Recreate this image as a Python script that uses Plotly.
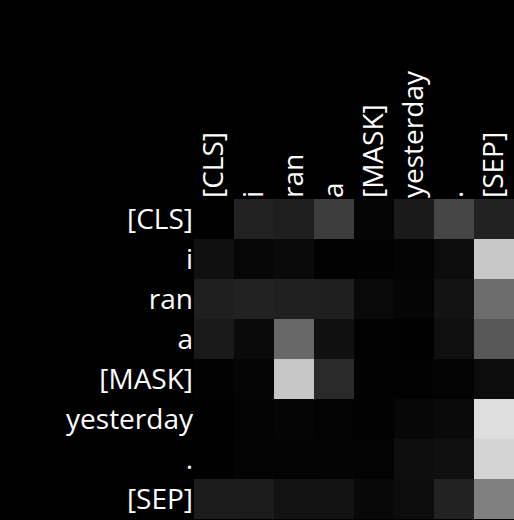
import plotly.graph_objects as go

tokens = ["[CLS]", "i", "ran", "a", "[MASK]", "yesterday", ".", "[SEP]"]

# attention weights (rows = query token, columns = key token)
row_cls = [0.000, 0.133, 0.118, 0.235, 0.020, 0.102, 0.271, 0.133]
row_i = [0.063, 0.024, 0.039, 0.008, 0.008, 0.016, 0.047, 0.784]
row_ran = [0.122, 0.133, 0.125, 0.122, 0.035, 0.020, 0.075, 0.424]
row_a = [0.102, 0.039, 0.408, 0.063, 0.008, 0.004, 0.059, 0.345]
row_mask = [0.008, 0.020, 0.776, 0.165, 0.008, 0.008, 0.012, 0.047]
row_yesterday = [0.004, 0.012, 0.020, 0.012, 0.008, 0.027, 0.039, 0.871]
row_dot = [0.004, 0.016, 0.012, 0.016, 0.012, 0.055, 0.063, 0.831]
row_sep = [0.110, 0.106, 0.071, 0.071, 0.031, 0.047, 0.133, 0.502]

z = [row_cls, row_i, row_ran, row_a, row_mask, row_yesterday, row_dot, row_sep]

fig = go.Figure(
    go.Heatmap(
        z=z,
        x=tokens,
        y=tokens,
        colorscale=[[0, "black"], [1, "white"]],
        zmin=0,
        zmax=1,
        showscale=False,
        xgap=0,
        ygap=0,
    )
)

fig.update_layout(
    width=514,
    height=520,
    margin=dict(l=194, r=0, t=199, b=1, pad=0),
    paper_bgcolor="black",
    plot_bgcolor="black",
    font=dict(family="Open Sans", size=28, color="white"),
    xaxis=dict(
        side="top",
        tickangle=-90,
        ticks="",
        showgrid=False,
        zeroline=False,
        showline=False,
        tickfont=dict(size=28, color="white"),
        type="category",
    ),
    yaxis=dict(
        autorange="reversed",
        ticks="",
        showgrid=False,
        zeroline=False,
        showline=False,
        tickfont=dict(size=28, color="white"),
        type="category",
    ),
)

fig.write_html(
    "out.html",
    config={"displayModeBar": False},
    post_script="document.body.style.margin='0';document.body.style.background='black';",
)
